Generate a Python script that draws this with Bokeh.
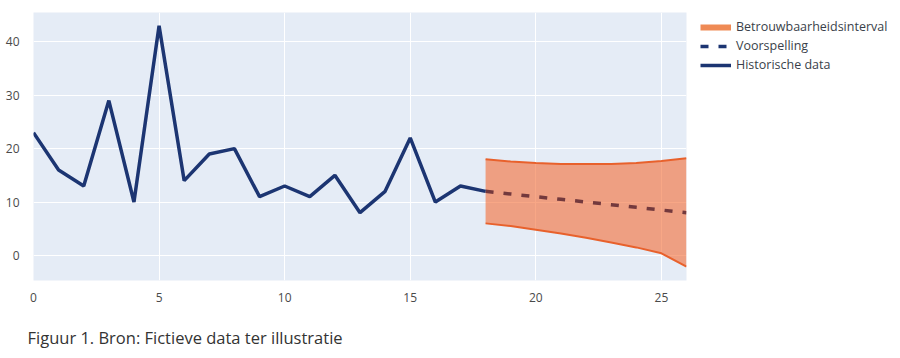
from bokeh.plotting import figure
from bokeh.models import Range1d, Legend, LegendItem, Title, FixedTicker, ColumnDataSource
from bokeh.embed import file_html
from bokeh.resources import INLINE

# Historical data
hist_x = list(range(0, 19))
hist_y = [23, 16, 13, 29, 10, 43, 14, 19, 20, 11, 13, 11, 15, 8, 12, 22, 10, 13, 12]

# Forecast
fc_x = [18, 19, 20, 21, 22, 23, 24, 25, 26]
fc_y = [12, 11.5, 11, 10.5, 10, 9.5, 9, 8.5, 8]
upper = [18, 17.6, 17.3, 17.1, 17.1, 17.1, 17.3, 17.7, 18.2]
lower = [6, 5.5, 4.8, 4.1, 3.3, 2.4, 1.5, 0.4, -2.1]

x_ticks = [0, 5, 10, 15, 20, 25]
y_ticks = [0, 10, 20, 30, 40]

FONT = "Open Sans"
NAVY = "#1c3572"

p = figure(frame_width=653, frame_height=268, output_backend="svg", toolbar_location=None,
           x_range=Range1d(0, 26), y_range=Range1d(-4.7, 45.5),
           min_border_left=33, min_border_top=12, min_border_right=214, min_border_bottom=78)
p.background_fill_color = "#e5ecf6"
p.border_fill_color = "white"
p.outline_line_color = None

for ax in (p.xaxis, p.yaxis):
    ax.axis_line_color = None
    ax.major_tick_line_color = None
    ax.minor_tick_line_color = None
    ax.major_label_text_color = "#4a4a4a"
    ax.major_label_text_font = FONT
    ax.major_label_text_font_size = "12px"
p.xaxis.ticker = FixedTicker(ticks=x_ticks)
p.yaxis.ticker = FixedTicker(ticks=y_ticks)
p.xaxis.major_label_standoff = 6
p.yaxis.major_label_standoff = 8
p.xgrid.grid_line_color = "white"
p.ygrid.grid_line_color = "white"

fsrc = ColumnDataSource(dict(x=fc_x, y=fc_y, up=upper, lo=lower))
hsrc = ColumnDataSource(dict(x=hist_x, y=hist_y))
# single off-range point: draws nothing, only provides legend swatches
legend_src = ColumnDataSource(dict(x=[-100], y=[-100]))

p.varea(x="x", y1="lo", y2="up", source=fsrc, fill_color="#f36d35", fill_alpha=0.6)
p.line("x", "up", source=fsrc, line_color="#e8612c", line_width=2)
p.line("x", "lo", source=fsrc, line_color="#e8612c", line_width=2)
p.line("x", "y", source=fsrc, line_color="#73393d", line_width=3.5, line_dash="8 10")
r_band = p.line("x", "y", source=legend_src, line_color="#ef8a55", line_width=6)
r_fc = p.line("x", "y", source=legend_src, line_color=NAVY, line_width=3.5, line_dash="8 10")
r_hist = p.line("x", "y", source=hsrc, line_color=NAVY, line_width=3.5)

legend = Legend(items=[
    LegendItem(label="Betrouwbaarheidsinterval", renderers=[r_band]),
    LegendItem(label="Voorspelling", renderers=[r_fc]),
    LegendItem(label="Historische data", renderers=[r_hist]),
], location=(14, 207))
legend.label_text_font = FONT
legend.label_text_font_size = "12.5px"
legend.label_text_color = "#3a3f4a"
legend.border_line_color = None
legend.background_fill_alpha = 0
legend.glyph_width = 31
legend.glyph_height = 16
legend.label_height = 16
legend.spacing = 2
legend.padding = 4
legend.margin = 0
legend.label_standoff = 5
p.add_layout(legend, "right")

cap = Title(text="Figuur 1. Bron: Fictieve data ter illustratie", align="left",
            text_font=FONT, text_font_size="16.5px", text_font_style="normal",
            text_color="#333333", offset=-6, standoff=38)
p.add_layout(cap, "below")

open("out.html", "w").write(file_html(p, INLINE))
